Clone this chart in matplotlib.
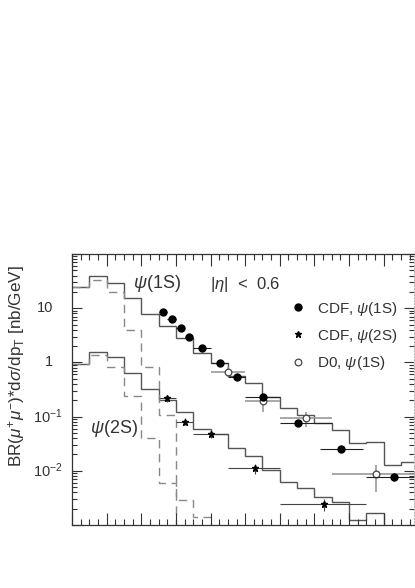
import matplotlib.pyplot as plt
import numpy as np
from matplotlib.lines import Line2D
from matplotlib.ticker import MultipleLocator, LogLocator, NullFormatter

plt.rcParams['font.family'] = ['Liberation Sans', 'DejaVu Sans']
plt.rcParams['mathtext.fontset'] = 'custom'
plt.rcParams['mathtext.rm'] = 'Liberation Sans'
plt.rcParams['mathtext.it'] = 'Liberation Sans:italic'

# theory histograms, 1 GeV bins in pT
edges_full = np.arange(0, 21)
psi1s_total = [24.5, 39, 29, 15.5, 7.8, 4.7, 2.8, 1.47, 0.96, 0.56,
               0.41, 0.23, 0.142, 0.107, 0.075, 0.057, 0.032, 0.034, 0.0128, 0.0147]
psi2s_total = [0.95, 1.55, 1.27, 0.645, 0.32, 0.20, 0.12, 0.058, 0.048, 0.026,
               0.0188, 0.0104, 0.0063, 0.0048, 0.0033, 0.0027, 0.00123, 0.00165, 0.0001, 0.0001]
psi1s_dashed = [24.5, 33, 20, 4.0, 0.83, 0.107, 0.0029, 0.0014, 0.0001]
psi2s_dashed = [0.95, 1.38, 0.83, 0.24, 0.04, 0.0059, 0.0001]

# CDF psi(1S)
cdf1s_pt = np.array([5.23, 5.75, 6.27, 6.77, 7.52, 8.54, 9.54, 11.04, 13.06, 15.56, 18.58])
cdf1s_lo = np.array([5, 5.5, 6, 6.5, 7, 8, 9, 10, 12, 14.3, 17])
cdf1s_hi = np.array([5.5, 6, 6.5, 7, 8, 9, 10, 12, 15, 16.8, 20])
cdf1s_val = [8.4, 6.3, 4.25, 2.98, 1.82, 0.96, 0.53, 0.227, 0.075, 0.025, 0.0078]
cdf1s_err = [0.3, 0.25, 0.2, 0.15, 0.1, 0.06, 0.04, 0.02, 0.008, 0.003, 0.0012]

# CDF psi(2S)
cdf2s_pt = np.array([5.5, 6.52, 8.02, 10.56, 14.56])
cdf2s_lo = np.array([5, 6, 7, 9, 12])
cdf2s_hi = np.array([6, 7, 9, 12, 17])
cdf2s_val = [0.218, 0.081, 0.048, 0.0111, 0.00244]
cdf2s_err = [0.03, 0.012, 0.007, 0.0025, 0.0006]

# D0 psi(1S)
d0_pt = np.array([9.02, 11.05, 13.54, 17.58])
d0_lo = np.array([8, 10, 12, 15])
d0_hi = np.array([10, 12, 15, 20])
d0_val = [0.67, 0.194, 0.093, 0.0086]
d0_err_lo = [0.13, 0.07, 0.028, 0.0046]
d0_err_hi = [0.16, 0.04, 0.03, 0.0042]

ytick_vals = [10, 1, 0.1, 0.01]
ytick_text = ['10', '1', r'10$^{-1}$', r'10$^{-2}$']

ink = '#333333'

fig = plt.figure(figsize=(4.15, 5.88), dpi=100)
ax = fig.add_axes([72 / 415, 63 / 588, 342 / 415, 271 / 588])
ax.set_yscale('log')
ax.set_xlim(0, 19.75)
ax.set_ylim(1e-3, 1e2)

# histograms
ax.stairs(psi1s_total, edges_full, baseline=None, color='#555555', lw=1.0)
ax.stairs(psi2s_total, edges_full, baseline=None, color='#555555', lw=1.0)
ax.stairs(psi1s_dashed, edges_full[:len(psi1s_dashed) + 1], baseline=None,
          color='#888888', lw=1.0, ls=(0, (6, 4)))
ax.stairs(psi2s_dashed, edges_full[:len(psi2s_dashed) + 1], baseline=None,
          color='#888888', lw=1.0, ls=(0, (6, 4)))

# data points
ax.errorbar(d0_pt, d0_val, xerr=[d0_pt - d0_lo, d0_hi - d0_pt], yerr=[d0_err_lo, d0_err_hi],
            fmt='o', ms=4.8, mfc='white', mec='#444444', mew=0.9, ecolor='#999999',
            elinewidth=1.2, capsize=0, zorder=3)
ax.errorbar(cdf1s_pt, cdf1s_val, xerr=[cdf1s_pt - cdf1s_lo, cdf1s_hi - cdf1s_pt], yerr=cdf1s_err,
            fmt='o', ms=5, color='black', ecolor='#222222', elinewidth=0.8, capsize=0, zorder=4)
ax.errorbar(cdf2s_pt, cdf2s_val, xerr=[cdf2s_pt - cdf2s_lo, cdf2s_hi - cdf2s_pt], yerr=cdf2s_err,
            fmt='*', ms=5, color='black', ecolor='#444444', elinewidth=0.8, capsize=0, zorder=4)

# axes styling
ax.xaxis.set_major_locator(MultipleLocator(2))
ax.xaxis.set_minor_locator(MultipleLocator(0.5))
ax.yaxis.set_major_locator(LogLocator(base=10, numticks=10))
ax.yaxis.set_minor_locator(LogLocator(base=10, subs=np.arange(2, 10), numticks=40))
ax.yaxis.set_minor_formatter(NullFormatter())
ax.set_yticklabels([])
ax.tick_params(which='both', direction='in', top=True, right=True, labelbottom=False,
               labelleft=False, color=ink, width=0.8)
ax.tick_params(axis='x', which='major', length=8.5)
ax.tick_params(axis='x', which='minor', length=4.5)
ax.tick_params(axis='y', which='major', length=7.5)
ax.tick_params(axis='y', which='minor', length=3.8)
for side in ['left', 'bottom', 'top']:
    ax.spines[side].set_color(ink)
    ax.spines[side].set_linewidth(0.9)
ax.spines['right'].set_color('#bbbbbb')
ax.spines['right'].set_linestyle(':')

# y tick labels
for v, t in zip(ytick_vals, ytick_text):
    xpos = -0.0556 if '$' not in t else -0.0263
    ax.text(xpos, v, t, transform=ax.get_yaxis_transform(), ha='right', va='center',
            fontsize=10.5, color=ink)

fig.text(16.7 / 415, 1 - 366 / 588,
         r'BR($\mu^{+}\mu^{-}$)$*$d$\sigma$/dp$_{\rm T}$ [nb/GeV]',
         rotation=90, ha='center', va='center', fontsize=12.3, color=ink)

ax.text(3.55, 29, r'$\psi$(1S)', ha='left', va='center', fontsize=13, color=ink)
ax.text(1.04, 0.061, r'$\psi$(2S)', ha='left', va='center', fontsize=13, color=ink)
ax.text(7.96, 27.6, r'$|\eta|$  <  0.6', ha='left', va='center', fontsize=12, color=ink)

handles = [
    Line2D([], [], ls='none', marker='o', ms=5, color='black'),
    Line2D([], [], ls='none', marker='*', ms=5, color='black'),
    Line2D([], [], ls='none', marker='o', ms=4.8, mfc='white', mec='#444444', mew=0.9),
]
labels = [r'CDF, $\psi$(1S)', r'CDF, $\psi$(2S)', r'D0, $\psi$(1S)']
leg = ax.legend(handles, labels, loc='upper left', bbox_to_anchor=(0.639, 0.832),
                frameon=False, borderpad=0, borderaxespad=0, handlelength=1.0,
                handletextpad=0.7, labelspacing=0.6, fontsize=11)
for t in leg.get_texts():
    t.set_color(ink)

fig.savefig('out.png', dpi=100)
